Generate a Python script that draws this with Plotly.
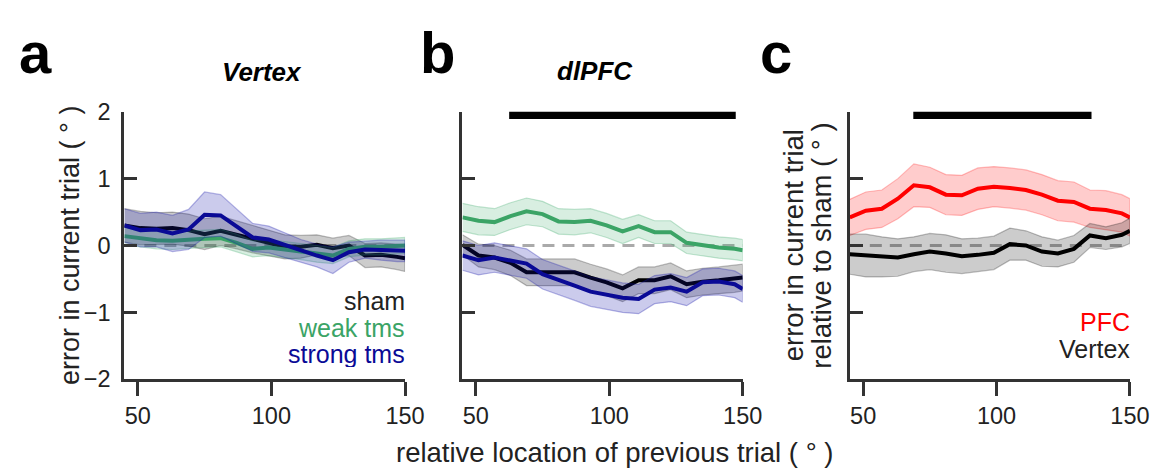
import plotly.graph_objects as go

W, H = 1166, 475

# ---------------- data ----------------
X = [45, 51, 57, 63, 69, 75, 81, 87, 93, 99, 105, 111, 117, 123, 129, 135, 141, 147, 150]

# panel a: Vertex
A_SHAM = [0.30, 0.26, 0.25, 0.26, 0.23, 0.17, 0.22, 0.16, 0.09, 0.03, -0.02, -0.02, 0.01, -0.04, 0.00, -0.15, -0.14, -0.17, -0.19]
A_SHAM_SEM = [0.25, 0.25, 0.24, 0.24, 0.24, 0.23, 0.22, 0.21, 0.20, 0.19, 0.18, 0.17, 0.15, 0.15, 0.15, 0.18, 0.18, 0.19, 0.20]
A_WEAK = [0.14, 0.11, 0.08, 0.07, 0.09, 0.10, 0.11, 0.04, -0.05, -0.03, -0.06, -0.09, -0.13, -0.15, -0.05, -0.02, -0.02, -0.01, 0.00]
A_WEAK_SEM = [0.13, 0.13, 0.13, 0.13, 0.13, 0.13, 0.13, 0.13, 0.12, 0.12, 0.12, 0.12, 0.12, 0.12, 0.12, 0.12, 0.12, 0.12, 0.12]
A_STRONG = [0.30, 0.23, 0.24, 0.18, 0.24, 0.46, 0.45, 0.29, 0.12, 0.09, 0.01, -0.08, -0.15, -0.22, -0.10, -0.06, -0.07, -0.08, -0.08]
A_STRONG_SEM = [0.25, 0.25, 0.26, 0.27, 0.30, 0.34, 0.31, 0.26, 0.21, 0.20, 0.18, 0.17, 0.17, 0.20, 0.15, 0.13, 0.15, 0.16, 0.16]

# panel b: dlPFC
B_SHAM = [0.01, -0.15, -0.18, -0.26, -0.40, -0.40, -0.40, -0.40, -0.48, -0.55, -0.64, -0.52, -0.52, -0.46, -0.58, -0.54, -0.52, -0.50, -0.48]
B_SHAM_SEM = [0.15, 0.17, 0.18, 0.19, 0.20, 0.20, 0.20, 0.20, 0.20, 0.20, 0.20, 0.20, 0.20, 0.20, 0.20, 0.20, 0.20, 0.20, 0.20]
B_WEAK = [0.42, 0.37, 0.35, 0.44, 0.51, 0.47, 0.36, 0.35, 0.37, 0.30, 0.21, 0.29, 0.20, 0.20, 0.04, 0.00, -0.03, -0.05, -0.07]
B_WEAK_SEM = [0.21, 0.21, 0.20, 0.20, 0.20, 0.19, 0.19, 0.19, 0.18, 0.18, 0.18, 0.17, 0.17, 0.17, 0.16, 0.16, 0.16, 0.16, 0.16]
B_STRONG = [-0.15, -0.22, -0.18, -0.22, -0.27, -0.43, -0.51, -0.60, -0.69, -0.73, -0.78, -0.80, -0.66, -0.63, -0.69, -0.55, -0.54, -0.58, -0.65]
B_STRONG_SEM = [0.22, 0.22, 0.22, 0.22, 0.22, 0.22, 0.22, 0.22, 0.22, 0.22, 0.22, 0.22, 0.21, 0.21, 0.21, 0.20, 0.20, 0.20, 0.20]
B_SIG = [62.5, 147.4]

# panel c: relative to sham
C_PFC = [0.42, 0.52, 0.55, 0.70, 0.90, 0.87, 0.76, 0.75, 0.85, 0.88, 0.86, 0.83, 0.76, 0.67, 0.65, 0.55, 0.53, 0.48, 0.42]
C_PFC_SEM = [0.27, 0.28, 0.28, 0.30, 0.32, 0.30, 0.30, 0.30, 0.31, 0.30, 0.30, 0.30, 0.30, 0.30, 0.30, 0.28, 0.29, 0.28, 0.28]
C_VERTEX = [-0.13, -0.15, -0.17, -0.18, -0.13, -0.09, -0.12, -0.16, -0.14, -0.11, 0.02, 0.00, -0.09, -0.12, -0.05, 0.15, 0.11, 0.16, 0.22]
C_VERTEX_SEM = [0.30, 0.32, 0.30, 0.28, 0.26, 0.27, 0.28, 0.26, 0.25, 0.25, 0.24, 0.22, 0.22, 0.20, 0.20, 0.18, 0.17, 0.18, 0.19]
C_SIG = [68.8, 135.6]
SIG_Y = 1.95

Y_TICKS = [-2, -1, 0, 1, 2]
Y_TICKTEXT = ["\u22122", "\u22121", "0", "1", "2"]
X_TICKS = [50, 100, 150]

# ---------------- styles ----------------
FONT = "Liberation Sans, Arial, sans-serif"
TXT = "#222222"
AX = "#333333"
COL = {
    "sham": ("#000000", "rgba(0,0,0,0.20)", "rgba(0,0,0,0.25)"),
    "weak": ("#3ba466", "rgba(60,170,105,0.20)", "rgba(60,170,105,0.30)"),
    "strong": ("#0a0a96", "rgba(20,20,170,0.22)", "rgba(20,20,170,0.30)"),
    "pfc": ("#ff0000", "rgba(255,0,0,0.20)", "rgba(255,0,0,0.25)"),
}

fig = go.Figure()


def px_x(p):
    return p / W


def px_y(p):
    return 1 - p / H


def add_band(mean, sem, key, xa, ya):
    line_c, fill_c, edge_c = COL[key]
    up = [m + s for m, s in zip(mean, sem)]
    lo = [m - s for m, s in zip(mean, sem)]
    fig.add_trace(go.Scatter(x=X + X[::-1], y=up + lo[::-1], fill="toself",
                             fillcolor=fill_c, line=dict(color=edge_c, width=1.2),
                             mode="lines", hoverinfo="skip", showlegend=False,
                             xaxis=xa, yaxis=ya))
    fig.add_trace(go.Scatter(x=X, y=mean, mode="lines",
                             line=dict(color=line_c, width=4),
                             showlegend=False, xaxis=xa, yaxis=ya))


def add_zero(xa, ya):
    fig.add_trace(go.Scatter(x=[X[0], X[-1]], y=[0, 0], mode="lines",
                             line=dict(color="#aaaaaa", width=3, dash="12px,8px"),
                             showlegend=False, hoverinfo="skip", xaxis=xa, yaxis=ya))


def add_sig(span, xa, ya):
    fig.add_trace(go.Scatter(x=span, y=[SIG_Y, SIG_Y], mode="lines",
                             line=dict(color="#000000", width=8),
                             showlegend=False, hoverinfo="skip", xaxis=xa, yaxis=ya))


# panel a
add_zero("x", "y")
add_band(A_SHAM, A_SHAM_SEM, "sham", "x", "y")
add_band(A_WEAK, A_WEAK_SEM, "weak", "x", "y")
add_band(A_STRONG, A_STRONG_SEM, "strong", "x", "y")

# panel b
add_zero("x2", "y2")
add_band(B_SHAM, B_SHAM_SEM, "sham", "x2", "y2")
add_band(B_WEAK, B_WEAK_SEM, "weak", "x2", "y2")
add_band(B_STRONG, B_STRONG_SEM, "strong", "x2", "y2")
add_sig(B_SIG, "x2", "y2")

# panel c
add_zero("x3", "y3")
add_band(C_PFC, C_PFC_SEM, "pfc", "x3", "y3")
add_band(C_VERTEX, C_VERTEX_SEM, "sham", "x3", "y3")
add_sig(C_SIG, "x3", "y3")

# ---------------- axes ----------------
ydom = [px_y(379), px_y(96)]
xdoms = [[px_x(118.4), px_x(404)], [px_x(462.4), px_x(747.5)], [px_x(856.5), px_x(1141.5)]]

tickfont = dict(family=FONT, size=23.5, color=TXT)
layout = {}
for i, xd in enumerate(xdoms):
    sfx = "" if i == 0 else str(i + 1)
    layout["xaxis" + sfx] = dict(
        domain=xd, range=[45, 150], anchor="y" + sfx,
        tickvals=X_TICKS, ticktext=[str(v) for v in X_TICKS],
        ticks="outside", ticklen=14, tickwidth=3, tickcolor=AX,
        showline=True, linecolor=AX, linewidth=3,
        showgrid=False, zeroline=False, tickfont=tickfont,
    )
    layout["yaxis" + sfx] = dict(
        domain=ydom, range=[-2, 2], anchor="x" + sfx,
        tickvals=Y_TICKS, ticktext=Y_TICKTEXT,
        ticks="inside", ticklen=13, tickwidth=3, tickcolor=AX,
        showline=True, linecolor=AX, linewidth=3,
        showgrid=False, zeroline=False, tickfont=tickfont,
        showticklabels=(i == 0), ticklabelstandoff=6,
    )

ann = []


def text(px, py, s, size=27.5, color=TXT, xanchor="center", angle=0, bold=False,
         italic=False, box_h=None):
    if bold:
        s = "<b>" + s + "</b>"
    if italic:
        s = "<i>" + s + "</i>"
    a = dict(x=px_x(px), y=px_y(py), xref="paper", yref="paper", text=s,
             showarrow=False, xanchor=xanchor, yanchor="middle", textangle=angle,
             borderpad=0, font=dict(family=FONT, size=size, color=color))
    if box_h:
        a["height"] = box_h
    ann.append(a)


# panel letters
text(28, 33, "a", size=58, color="#000", bold=True)
text(437, 33, "b", size=58, color="#000", bold=True)
text(781, 33, "c", size=58, color="#000", bold=True)
# titles
text(258, 54, "Vertex", size=26, color="#000", bold=True, italic=True)
text(597, 53, "dlPFC", size=26, color="#000", bold=True, italic=True)
# axis labels
text(63, 237, "error in current trial ( \u00b0 )", size=27, angle=-90)
text(799, 237, "error in current trial", angle=-90)
text(828, 238, "relative to sham ( \u00b0 )", angle=-90)
text(617, 457, "relative location of previous trial ( \u00b0 )")
# legends
text(405, 296, "sham", size=25, color="#222222", xanchor="right", box_h=27)
text(405, 324, "weak tms", size=25, color=COL["weak"][0], xanchor="right", box_h=27)
text(405, 352, "strong tms", size=25, color=COL["strong"][0], xanchor="right", box_h=27)
text(1143, 318, "PFC", size=25, color="#ff0000", xanchor="right", box_h=27)
text(1143, 346, "Vertex", size=25, color="#222222", xanchor="right", box_h=27)

fig.update_layout(
    width=W, height=H, margin=dict(l=0, r=0, t=0, b=0),
    paper_bgcolor="white", plot_bgcolor="white",
    showlegend=False, annotations=ann, **layout,
)

fig.write_html("out.html")
